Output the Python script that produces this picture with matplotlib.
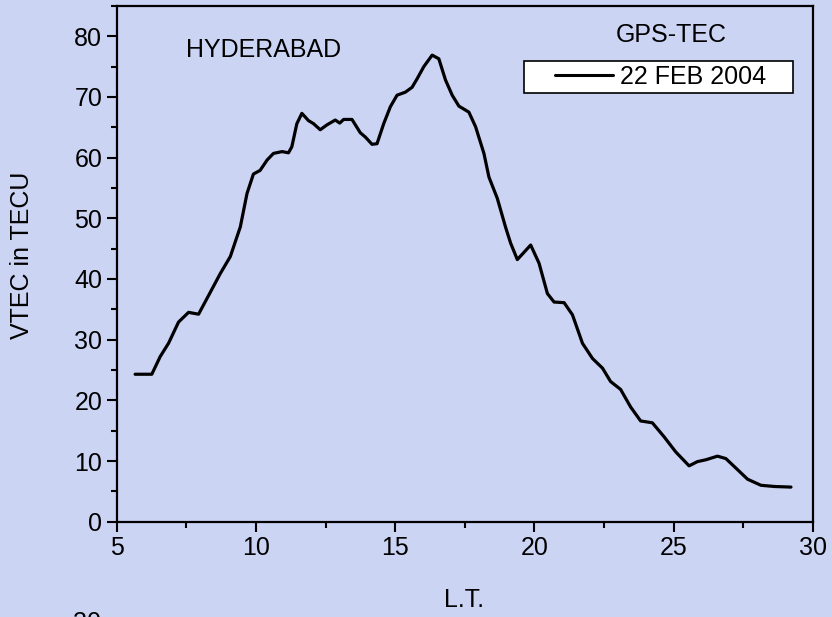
import matplotlib
matplotlib.use("Agg")
import matplotlib.pyplot as plt
from matplotlib.legend_handler import HandlerLine2D
from matplotlib.ticker import MultipleLocator

plt.rcParams['font.family'] = ['Liberation Sans', 'DejaVu Sans']

# local time (h) and vertical TEC (TECU)
lt = [5.66, 6.26, 6.56, 6.86, 7.22, 7.58, 7.94, 8.36, 8.72, 9.08, 9.44, 9.68,
      9.91, 10.15, 10.4, 10.63, 10.94, 11.17, 11.29, 11.47, 11.65, 11.89, 12.07,
      12.31, 12.55, 12.85, 13.01, 13.15, 13.45, 13.75, 13.93, 14.17, 14.35,
      14.59, 14.83, 15.07, 15.37, 15.61, 15.79, 16.03, 16.33, 16.57, 16.81,
      17.05, 17.29, 17.65, 17.89, 18.19, 18.37, 18.67, 18.97, 19.15, 19.39,
      19.87, 20.17, 20.47, 20.71, 21.07, 21.37, 21.73, 22.09, 22.45, 22.74,
      23.10, 23.46, 23.82, 24.24, 24.66, 25.08, 25.56, 25.86, 26.16, 26.58,
      26.88, 27.18, 27.66, 28.14, 28.62, 29.22]
vtec = [24.3, 24.3, 27.2, 29.4, 32.9, 34.5, 34.2, 37.8, 40.9, 43.7, 48.6, 54.1,
        57.3, 57.9, 59.6, 60.7, 61.0, 60.8, 61.8, 65.6, 67.3, 66.1, 65.6,
        64.6, 65.4, 66.2, 65.7, 66.3, 66.3, 64.1, 63.4, 62.2, 62.3,
        65.6, 68.4, 70.3, 70.8, 71.6, 73.0, 75.0, 76.9, 76.3, 72.8,
        70.3, 68.5, 67.5, 65.1, 60.7, 56.8, 53.3, 48.5, 45.9, 43.2,
        45.6, 42.6, 37.6, 36.2, 36.1, 34.1, 29.4, 26.9, 25.3, 23.1,
        21.8, 18.9, 16.6, 16.3, 14.0, 11.5, 9.2, 9.9, 10.2, 10.8,
        10.4, 9.1, 7.0, 6.0, 5.8, 5.7]

bg = '#ccd4f4'
fs = 18

fig = plt.figure(figsize=(8.32, 6.17), dpi=100, facecolor=bg)
ax = fig.add_axes([0.1403, 0.1545, 0.8365, 0.8358])
ax.set_facecolor(bg)

ax.plot(lt, vtec, color='black', linewidth=2.3, label='22 FEB 2004',
        solid_joinstyle='round', solid_capstyle='round')

ax.set_xlim(5, 30)
ax.set_ylim(0, 85)
ax.xaxis.set_major_locator(MultipleLocator(5))
ax.xaxis.set_minor_locator(MultipleLocator(2.5))
ax.yaxis.set_major_locator(MultipleLocator(10))
ax.yaxis.set_minor_locator(MultipleLocator(5))
ax.tick_params(which='both', direction='out', width=1.5, labelsize=fs,
               top=False, right=False)
ax.tick_params(which='major', length=7.5, pad=3)
ax.tick_params(which='minor', length=4)
for s in ax.spines.values():
    s.set_linewidth(1.6)

ax.text(7.49, 76.6, 'HYDERABAD', fontsize=fs, va='baseline')
ax.text(24.93, 79.0, 'GPS-TEC', fontsize=fs, ha='center', va='baseline')

leg = ax.legend(loc='upper left', bbox_to_anchor=(0.585, 0.821, 0.387, 0.072),
                mode='expand', borderaxespad=0, fontsize=fs, frameon=True,
                fancybox=False, framealpha=1, facecolor='white',
                edgecolor='black', borderpad=0.15, handlelength=3.4,
                handletextpad=0.28,
                handler_map={matplotlib.lines.Line2D: HandlerLine2D(xpad=1.08)})
leg.get_frame().set_linewidth(1.2)
leg.get_lines()[0].set_linewidth(2.2)

fig.text(22 / 832, 1 - 255 / 617, 'VTEC in TECU', fontsize=fs, rotation=90,
         ha='center', va='center')
fig.text(464 / 832, 1 - 600 / 617, 'L.T.', fontsize=fs, ha='center',
         va='center')
# page number peeking in at the bottom edge, cut off as in the source
fig.text(73 / 832, 1 - 611 / 617, '30', fontsize=fs, va='top')

fig.savefig('out.png', dpi=100, facecolor=bg)
